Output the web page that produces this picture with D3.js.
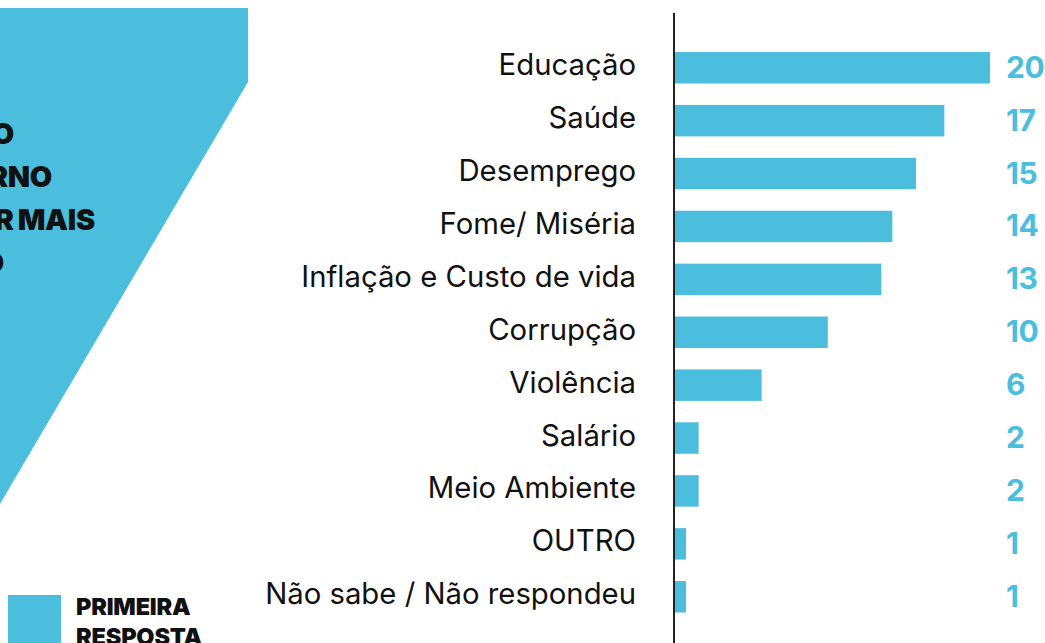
<!DOCTYPE html>
<html>
<head>
<meta charset="utf-8">
<script src="https://cdn.jsdelivr.net/npm/d3@7"></script>
<style>
  html, body { margin: 0; padding: 0; background: #fff; overflow: hidden; }
  svg { display: block; font-family: Inter, "Noto Sans", sans-serif; }
</style>
</head>
<body>
<svg id="chart" width="1045" height="643"></svg>
<script>
// categories and values (percent, first answer)
const categories = [
  'Educação', 'Saúde', 'Desemprego', 'Fome/ Miséria', 'Inflação e Custo de vida',
  'Corrupção', 'Violência', 'Salário', 'Meio Ambiente', 'OUTRO', 'Não sabe / Não respondeu'
];
const values = [20.0, 17.1, 15.3, 13.8, 13.1, 9.7, 5.5, 1.5, 1.5, 0.7, 0.7];
const valueLabels = ['20', '17', '15', '14', '13', '10', '6', '2', '2', '1', '1'];

const titleLines = ['TEMA QUE O', 'GOVERNO', 'DEVERIA DAR MAIS', 'ATENÇÃO'];
const legendLines = ['PRIMEIRA', 'RESPOSTA'];

const blue = '#4bbedd';

const data = categories.map((c, i) => ({ cat: c, value: values[i], label: valueLabels[i] }));

const svg = d3.select('#chart');

// left decorative panel with title (runs off the left edge)
svg.append('path')
  .attr('d', 'M0,8 L248,8 L248,82 L0,504 Z')
  .attr('fill', blue);

const titleEnds = [14, 52, 95, 4];
svg.append('g')
  .selectAll('text')
  .data(titleLines)
  .join('text')
  .attr('x', (d, i) => titleEnds[i])
  .attr('y', (d, i) => 144 + i * 43)
  .attr('text-anchor', 'end')
  .attr('font-size', 29)
  .attr('font-weight', 900)
  .attr('letter-spacing', -0.3)
  .attr('word-spacing', -1.5)
  .attr('fill', '#111')
  .text(d => d);

// scales
const x = d3.scaleLinear()
  .domain([0, 20])
  .range([675, 990]);

const y = d3.scaleBand()
  .domain(categories)
  .range([30.6, 633.9])
  .paddingInner(0.405)
  .paddingOuter(0.405);

// bars
svg.append('g')
  .selectAll('rect')
  .data(data)
  .join('rect')
  .attr('x', x(0))
  .attr('y', d => y(d.cat))
  .attr('width', d => x(d.value) - x(0))
  .attr('height', y.bandwidth())
  .attr('fill', blue);

// category labels
svg.append('g')
  .selectAll('text')
  .data(data)
  .join('text')
  .attr('x', 636)
  .attr('y', d => y(d.cat) + y.bandwidth() / 2 + 7.5)
  .attr('text-anchor', 'end')
  .attr('font-size', 29.3)
  .attr('fill', '#111')
  .text(d => d.cat);

// value labels
svg.append('g')
  .selectAll('text')
  .data(data)
  .join('text')
  .attr('x', 1006)
  .attr('y', d => y(d.cat) + y.bandwidth() / 2 + 10)
  .attr('font-size', 30)
  .attr('font-weight', 700)
  .attr('letter-spacing', -0.5)
  .attr('fill', blue)
  .text(d => d.label);

// vertical axis line
svg.append('line')
  .attr('x1', 674).attr('x2', 674)
  .attr('y1', 13).attr('y2', 643)
  .attr('stroke', '#222')
  .attr('stroke-width', 2);

// legend
svg.append('rect')
  .attr('x', 8).attr('y', 595)
  .attr('width', 53).attr('height', 60)
  .attr('fill', blue);

svg.append('g')
  .selectAll('text')
  .data(legendLines)
  .join('text')
  .attr('x', 76)
  .attr('y', (d, i) => 615 + i * 30)
  .attr('font-size', 23.5)
  .attr('font-weight', 900)
  .attr('letter-spacing', -0.2)
  .attr('fill', '#111')
  .text(d => d);
</script>
</body>
</html>
